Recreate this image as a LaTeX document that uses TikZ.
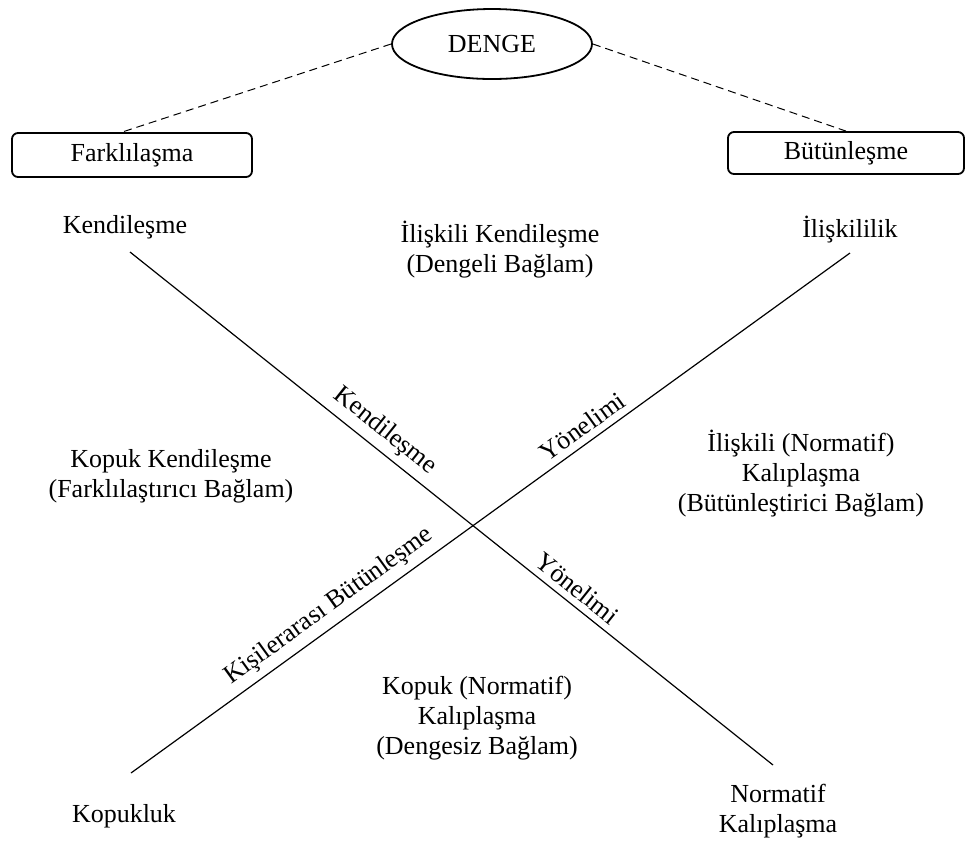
\documentclass[tikz,border=0pt]{standalone}
\usepackage{fontspec}
\setmainfont{Liberation Serif}
\usetikzlibrary{shapes.geometric}

\begin{document}
\begin{tikzpicture}[x=0.5pt, y=-0.5pt,
    every node/.style={font=\fontsize{13}{15}\selectfont},
    pole/.style={draw, rounded corners=3pt, line width=0.9pt, minimum width=120pt, minimum height=22pt, inner sep=0pt},
    oval/.style={draw, ellipse, line width=0.9pt, minimum width=100pt, minimum height=35pt, inner sep=0pt},
    axis/.style={line width=0.6pt},
    link/.style={dash pattern=on 4pt off 2.5pt, line width=0.5pt},
    region/.style={align=center}]
    \useasboundingbox (0,0) rectangle (966,843);

    % Balance and its two poles
    \node[oval] (denge) at (492,44) {DENGE};
    \node[pole] (farkli) at (132,155) {Farklılaşma};
    \node[pole, minimum width=118pt, minimum height=21pt] (butun) at (846,153) {Bütünleşme};
    \draw[link] (denge.west) -- ([xshift=-5pt]farkli.north);
    \draw[link] (denge.east) -- (butun.north);

    % Corner labels
    \node[anchor=base] (kend) at (125,233) {Kendileşme};
    \node[anchor=base] (ilis) at (850,237) {İlişkililik};
    \node[anchor=base] (kop) at (124,822) {Kopukluk};
    \node[region] (norm) at (778,811) {Normatif\\Kalıplaşma};

    % Axes
    \coordinate (a1) at (130,252);
    \coordinate (a2) at (773,765);
    \coordinate (b1) at (131,773);
    \coordinate (b2) at (850,253);
    \draw[axis] (a1) -- (a2)
        node[pos=0.378, sloped, above] (ak) {Kendileşme}
        node[pos=0.68, sloped, above] (ay) {Yönelimi};
    \draw[axis] (b1) -- (b2)
        node[pos=0.291, sloped, above] (bk) {Kişilerarası Bütünleşme}
        node[pos=0.641, sloped, above] (by) {Yönelimi};

    % Regions
    \node[region] (dengeli) at (500,250) {İlişkili Kendileşme\\(Dengeli Bağlam)};
    \node[region] (farklb) at (171,476) {Kopuk Kendileşme\\(Farklılaştırıcı Bağlam)};
    \node[region] (butunb) at (801,474) {İlişkili (Normatif)\\Kalıplaşma\\(Bütünleştirici Bağlam)};
    \node[region] (dengesiz) at (477,718) {Kopuk (Normatif)\\Kalıplaşma\\(Dengesiz Bağlam)};
\end{tikzpicture}
\end{document}
